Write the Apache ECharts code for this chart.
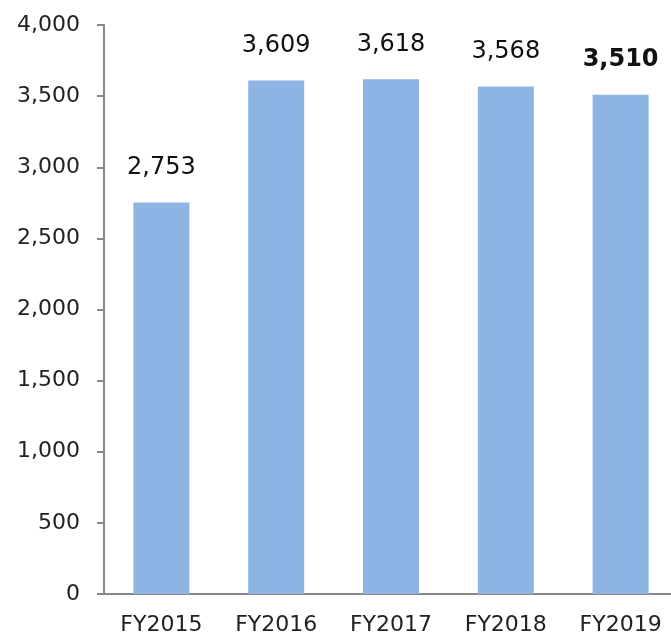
<!DOCTYPE html>
<html>
<head>
<meta charset="utf-8">
<script src="https://cdn.jsdelivr.net/npm/echarts@6/dist/echarts.min.js"></script>
<style>
  html, body { margin: 0; padding: 0; background: #fff; overflow: hidden; }
  #main { width: 678px; height: 640px; }
</style>
</head>
<body>
<div id="main"></div>
<script>
var categories = ['FY2015', 'FY2016', 'FY2017', 'FY2018', 'FY2019'];
var values = [2753, 3609, 3618, 3568, 3510];
var boldIndex = 4;

// the plot runs a few px past the right edge of the picture
var chart = echarts.init(document.getElementById('main'));

var seriesData = values.map(function (v, i) {
  var item = { value: v };
  if (i === boldIndex) {
    item.label = { fontWeight: 'bold' };
  }
  return item;
});

var option = {
  backgroundColor: '#fff',
  animation: false,
  grid: { left: 104, top: 25, bottom: 46, right: 0 },
  xAxis: {
    type: 'category',
    data: categories,
    axisLine: { lineStyle: { color: '#888', width: 2 } },
    axisTick: { length: 8, lineStyle: { color: '#888', width: 2 } },
    axisLabel: { color: '#222', fontSize: 22, fontFamily: 'DejaVu Sans', margin: 20 }
  },
  yAxis: {
    type: 'value',
    min: 0,
    max: 4000,
    interval: 500,
    axisLine: { show: true, lineStyle: { color: '#888', width: 2 } },
    axisTick: { show: true, length: 7, lineStyle: { color: '#888', width: 2 } },
    splitLine: { show: false },
    axisLabel: {
      color: '#222', fontSize: 22, fontFamily: 'DejaVu Sans', margin: 24,
      formatter: function (v) { return v.toLocaleString('en-US'); }
    }
  },
  series: [{
    type: 'bar',
    data: seriesData,
    barWidth: 56,
    itemStyle: { color: '#8EB4E3' },
    label: {
      show: true,
      position: 'top',
      distance: 23,
      color: '#111',
      fontSize: 24,
      fontFamily: 'DejaVu Sans',
      formatter: function (p) { return p.value.toLocaleString('en-US'); }
    }
  }]
};

chart.setOption(option);
</script>
</body>
</html>
